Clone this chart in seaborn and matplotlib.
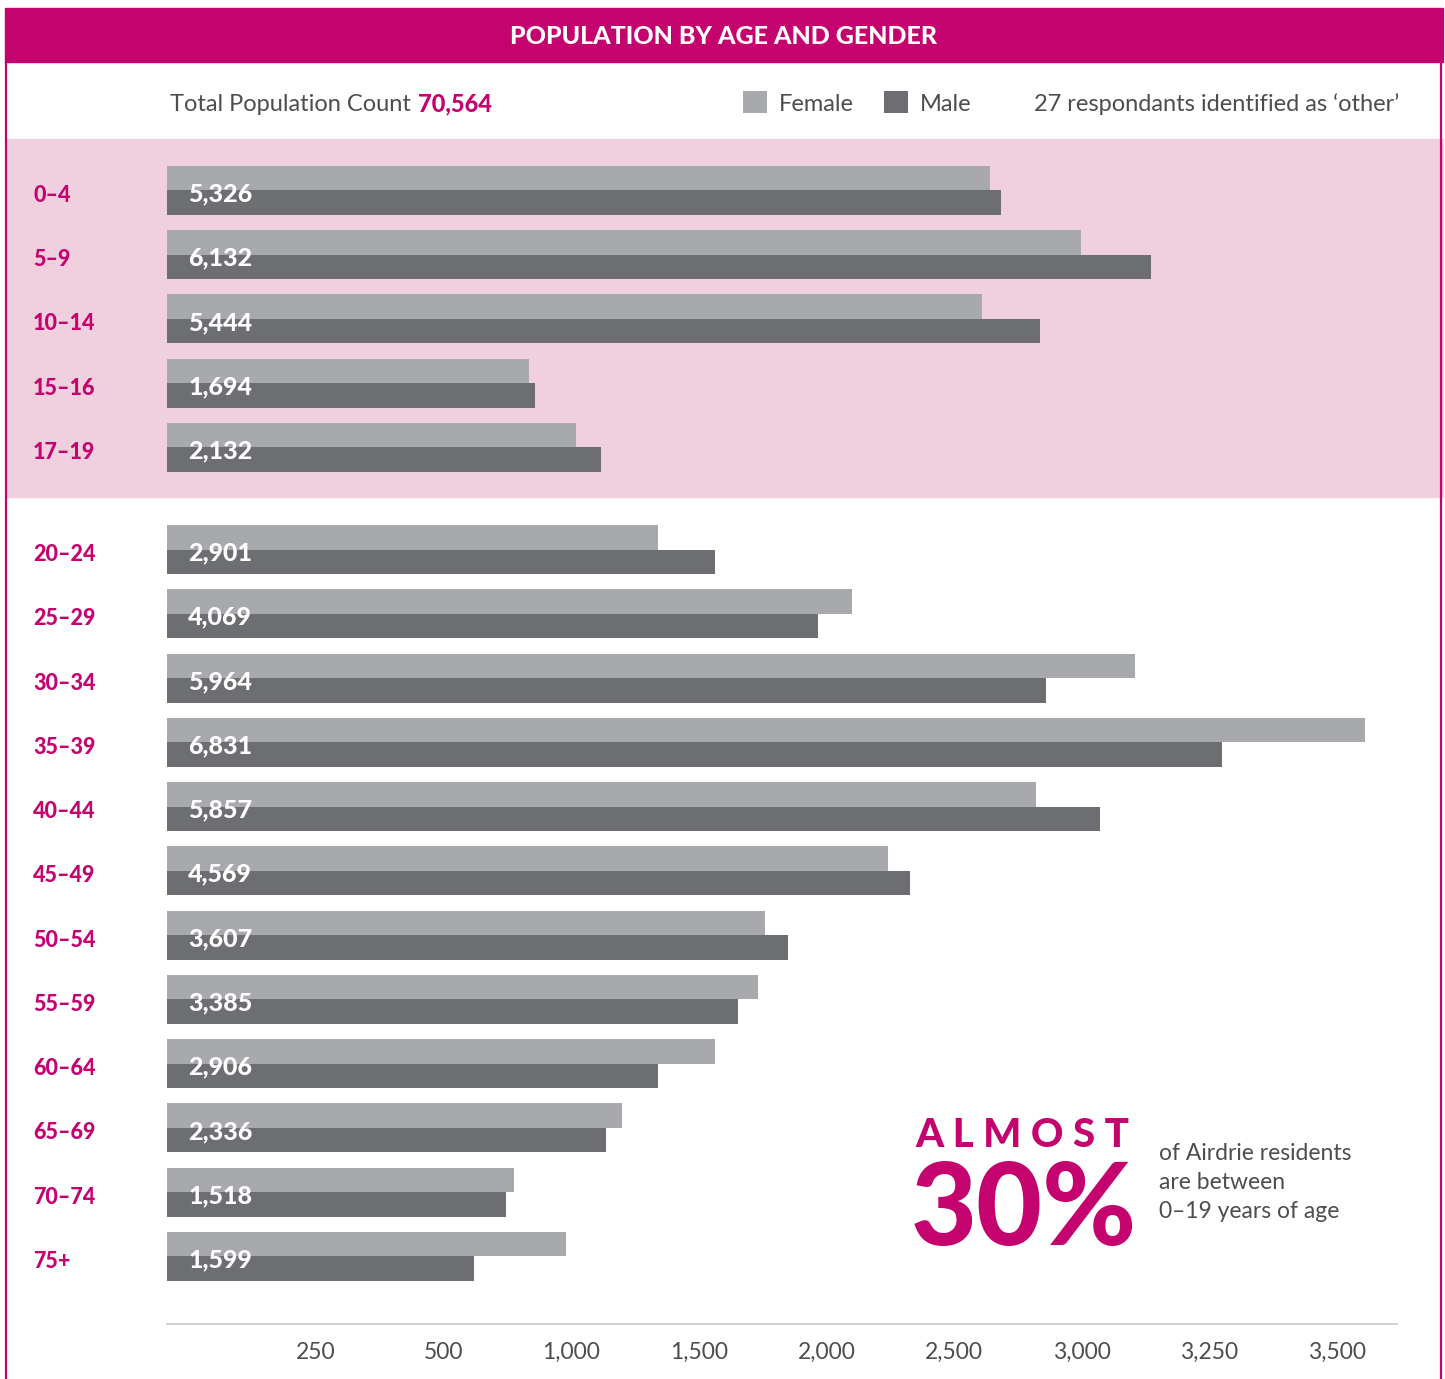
import numpy as np
import pandas as pd
import matplotlib
matplotlib.use("Agg")
import matplotlib.pyplot as plt
import matplotlib.transforms as mtransforms
from matplotlib.patches import Rectangle
from matplotlib.lines import Line2D
import seaborn as sns

# ---------------- data ----------------
young_groups = ["0–4", "5–9", "10–14", "15–16", "17–19"]
young_female = [2641, 2996, 2608, 834, 1017]
young_male = [2685, 3136, 2836, 860, 1115]

adult_groups = ["20–24", "25–29", "30–34", "35–39", "40–44", "45–49",
                "50–54", "55–59", "60–64", "65–69", "70–74", "75+"]
adult_female = [1339, 2101, 3104, 3556, 2821, 2240, 1758, 1731, 1565, 1200, 775, 981]
adult_male = [1562, 1968, 2860, 3275, 3036, 2329, 1849, 1654, 1341, 1136, 743, 618]

tick_values = [250, 500, 1000, 1500, 2000, 2500, 3000, 3250, 3500]
total_count = 70564
other_count = 27

# ---------------- style ----------------
W, H = 1445, 1379
MAGENTA = "#c4036f"
PINK = "#f0cfdf"
FEMALE_C = "#a8a9ad"
MALE_C = "#6d6e71"
TEXT_C = "#4d4d4f"
BOLD = "black"

sns.set_theme(style="white")
plt.rcParams["font.family"] = ["Lato", "DejaVu Sans"]


def fx(x):
    return x / W


def fy(y):
    return 1 - y / H


PT = 0.72  # points per pixel at 100 dpi

# piecewise axis: ticks evenly spaced, origin a bit further from the first tick
ORIGIN_GAP = 1.168
scale_vals = np.array([0] + tick_values + [3750], dtype=float)
scale_pos = np.array([0.0] + [ORIGIN_GAP + k for k in range(len(tick_values) + 1)])


def fwd(v):
    return np.interp(v, scale_vals, scale_pos)


def inv(p):
    return np.interp(p, scale_pos, scale_vals)


XMAX = 3618

fig = plt.figure(figsize=(W / 100, H / 100), dpi=100)
fig.patch.set_facecolor("white")

# header band, pink youth band and frame
fig.patches.append(Rectangle((fx(5), fy(62)), fx(1443 - 5), 54 / H,
                             transform=fig.transFigure, color=MAGENTA, zorder=-1))
fig.patches.append(Rectangle((fx(7), fy(497)), fx(1443 - 7), 358 / H,
                             transform=fig.transFigure, color=PINK, zorder=-1))
for xv in (6, 1441):
    fig.lines.append(Line2D([fx(xv), fx(xv)], [fy(62), 0], transform=fig.transFigure,
                            color=MAGENTA, lw=2.2 * PT))

fig.text(fx(723), fy(36), "POPULATION BY AGE AND GENDER", ha="center", va="center",
         color="white", fontsize=18, fontweight=BOLD)

ax_top = fig.add_axes([fx(167), fy(497), fx(1397 - 167), 358 / H])
ax_bot = fig.add_axes([fx(167), fy(1324), fx(1397 - 167), 827 / H])

label_shift = mtransforms.ScaledTranslation(0, -3 / 100, fig.dpi_scale_trans)


def panel(ax, groups, female, male, ylim):
    n = len(groups)
    df = pd.DataFrame({
        "age": groups * 2,
        "count": female + male,
        "gender": ["Female"] * n + ["Male"] * n,
    })
    sns.barplot(data=df, y="age", x="count", hue="gender", order=groups,
                hue_order=["Female", "Male"],
                palette={"Female": FEMALE_C, "Male": MALE_C},
                orient="h", width=0.763, gap=0, linewidth=0, saturation=1,
                errorbar=None, ax=ax)
    ax.set_xscale("function", functions=(fwd, inv))
    ax.set_xlim(0, XMAX)
    ax.set_ylim(*ylim)
    ax.set_facecolor("none")
    ax.set_xlabel("")
    ax.set_ylabel("")
    for s in ax.spines.values():
        s.set_visible(False)
    ax.tick_params(axis="y", length=0, pad=(167 - 33) * PT)
    for lbl in ax.get_yticklabels():
        lbl.set_horizontalalignment("left")
        lbl.set_color(MAGENTA)
        lbl.set_fontweight(BOLD)
        lbl.set_fontsize(15.5)
        lbl.set_transform(lbl.get_transform() + label_shift)
    for i, (f, m) in enumerate(zip(female, male)):
        ax.annotate(f"{f + m:,}", xy=(0, i), xytext=(21 * PT, -2.5), textcoords="offset points",
                    ha="left", va="center", color="white", fontweight=BOLD, fontsize=18)


panel(ax_top, young_groups, young_female, young_male, (4.774, -0.802))
panel(ax_bot, adult_groups, adult_female, adult_male, (12.051, -0.817))

handles, labels = ax_bot.get_legend_handles_labels()
ax_top.get_legend().remove()
ax_bot.get_legend().remove()

ax_top.set_xticks([])
ax_bot.set_xticks(tick_values)
ax_bot.set_xticklabels([f"{v:,}" for v in tick_values])
ax_bot.xaxis.set_minor_locator(matplotlib.ticker.NullLocator())
ax_bot.tick_params(axis="x", length=0, pad=13, labelsize=16.5, labelcolor=TEXT_C)
ax_bot.spines["bottom"].set_visible(True)
ax_bot.spines["bottom"].set_color("#d2d2d2")
ax_bot.spines["bottom"].set_linewidth(2 * PT)

# top information row
t1 = fig.text(fx(170), fy(111), "Total Population Count", ha="left", va="baseline",
              color=TEXT_C, fontsize=17)
plt.annotate(f"{total_count:,}", xy=(1, 0), xycoords=t1, xytext=(5, 0),
             textcoords="offset points", ha="left", va="bottom",
             color=MAGENTA, fontsize=17, fontweight=BOLD,
             annotation_clip=False)
fig.legend(handles, labels, loc="center left", bbox_to_anchor=(fx(743), fy(103)),
           frameon=False, ncol=2, fontsize=17, handlelength=1.0, handleheight=1.05,
           handletextpad=0.5, columnspacing=1.3, borderpad=0, borderaxespad=0,
           labelcolor=TEXT_C)
fig.text(fx(1399), fy(111), f"{other_count} respondants identified as ‘other’",
         ha="right", va="baseline", color=TEXT_C, fontsize=17)

# callout
fig.text(fx(915), fy(1147), "A L M O S T", ha="left", va="baseline",
         color=MAGENTA, fontsize=29, fontweight=BOLD)
fig.text(fx(911), fy(1245), "30%", ha="left", va="baseline",
         color=MAGENTA, fontsize=82, fontweight=BOLD)
for k, line in enumerate(["of Airdrie residents", "are between", "0–19 years of age"]):
    fig.text(fx(1159), fy(1160 + 29 * k), line, ha="left", va="baseline",
             color=TEXT_C, fontsize=16.5)

fig.savefig("out.png", dpi=100)
